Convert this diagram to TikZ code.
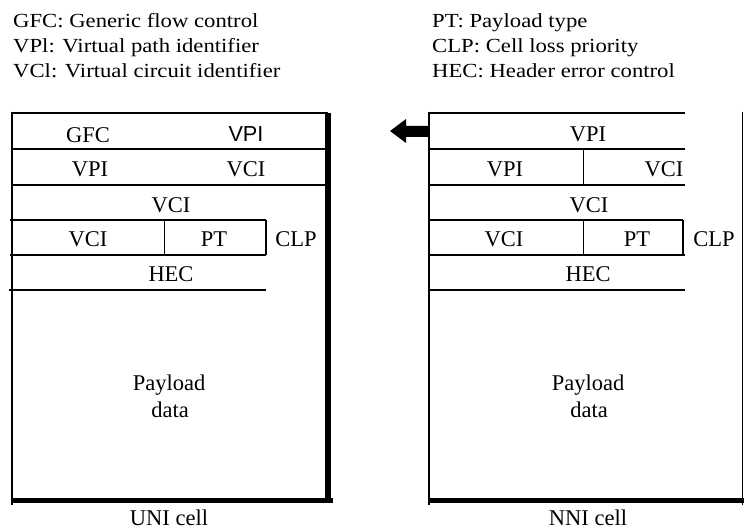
\documentclass[tikz,border=0pt]{standalone}
\usepackage{fontspec}
\setmainfont{Liberation Serif}
\newfontfamily\sansf{Liberation Sans}
\begin{document}
\begin{tikzpicture}[x=1pt,y=-1pt,
  lbl/.style={inner sep=0pt, anchor=base, font=\fontsize{22.5}{27}\selectfont},
  slbl/.style={inner sep=0pt, anchor=base, font=\sansf\fontsize{21.7}{26}\selectfont},
  leg/.style={inner sep=0pt, anchor=base west, font=\fontsize{22.7}{25}\selectfont},
  rowline/.style={line width=1.3pt},
  thinline/.style={line width=1pt},
  edgeline/.style={line width=2pt},
  heavyline/.style={line width=5pt}]
\useasboundingbox[fill=white] (0,0) rectangle (744,529);

% legend
\node[leg] (l1) at (13,28) {\scalebox{1}[0.88]{GFC: Generic flow control}};
\node[leg] (l2) at (13,53) {\scalebox{1}[0.88]{VPl: Virtual path identifier}};
\node[leg] (l3) at (13,78) {\scalebox{1}[0.88]{VCl: Virtual circuit identifier}};
\node[leg] (r1) at (432,28) {\scalebox{1}[0.88]{PT: Payload type}};
\node[leg] (r2) at (432,53) {\scalebox{1}[0.88]{CLP: Cell loss priority}};
\node[leg] (r3) at (432,78) {\scalebox{1}[0.88]{HEC: Header error control}};

% ---------- UNI cell ----------
\draw[edgeline] (12,112) -- (12,505);
\draw[line width=5.5pt] (328,113) -- (328,500);
\draw[heavyline] (12,500) -- (333,500);
\draw[rowline] (12,113) -- (328,113);
\draw[rowline] (12,149) -- (328,149);
\draw[rowline] (12,185) -- (328,185);
\draw[rowline] (10,220) -- (266,220);
\draw[rowline] (10,255) -- (266,255);
\draw[rowline] (9,290) -- (266,290);
\draw[thinline] (164,220) -- (164,255);
\draw[line width=1.5pt] (266,220) -- (266,255);

\node[lbl]  (ugfc) at (88,143) {GFC};
\node[slbl] (uvpa) at (246,142) {VPI};
\node[lbl]  (uvpb) at (90,177) {VPI};
\node[lbl]  (uvca) at (246,177) {VCI};
\node[lbl]  (uvcb) at (171,213) {VCI};
\node[lbl]  (uvcc) at (88,247) {VCI};
\node[lbl]  (upt)  at (214,247) {PT};
\node[lbl]  (uclp) at (296,247) {CLP};
\node[lbl]  (uhec) at (171,282) {HEC};
\node[lbl]  (upay) at (169,390) {Payload};
\node[lbl]  (udat) at (170,417) {data};
\node[lbl]  (uni)  at (169,525) {UNI cell};

% ---------- NNI cell ----------
\draw[line width=2.5pt] (429,112) -- (429,505);
\draw[thinline] (742,112) -- (742,505);
\draw[heavyline] (429,500) -- (744,500);
\draw[rowline] (429,113) -- (685,113);
\draw[rowline] (429,149) -- (685,149);
\draw[rowline] (429,185) -- (685,185);
\draw[rowline] (429,220) -- (683,220);
\draw[rowline] (429,255) -- (685,255);
\draw[rowline] (429,290) -- (685,290);
\draw[thinline] (583,149) -- (583,185);
\draw[thinline] (583,220) -- (583,255);
\draw[edgeline] (683,220) -- (683,255);

\node[lbl] (nvpa) at (588,142) {VPI};
\node[lbl] (nvpb) at (505,177) {VPI};
\node[lbl] (nvca) at (664,177) {VCI};
\node[lbl] (nvcb) at (589,213) {VCI};
\node[lbl] (nvcc) at (504,247) {VCI};
\node[lbl] (npt)  at (637,247) {PT};
\node[lbl] (nclp) at (714,247) {CLP};
\node[lbl] (nhec) at (588,282) {HEC};
\node[lbl] (npay) at (588,390) {Payload};
\node[lbl] (ndat) at (589,417) {data};
\node[lbl] (nni)  at (588,525) {NNI cell};

% arrow
\coordinate (atip) at (390,131);
\fill (atip) -- (406,119) -- (406,126) -- (428,126) -- (428,137) -- (406,137) -- (406,143) -- cycle;
\end{tikzpicture}
\end{document}
